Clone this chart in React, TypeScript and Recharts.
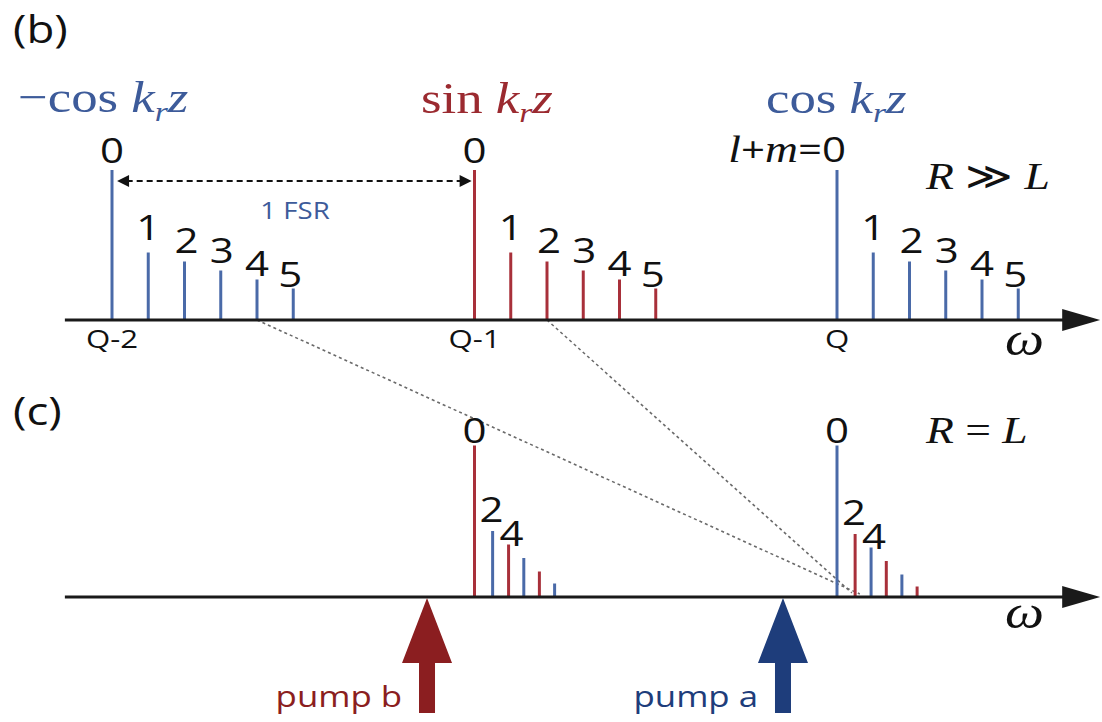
import React from 'react';
import { ComposedChart, XAxis, YAxis, Scatter, ReferenceLine } from 'recharts';

const W = 1102;
const H = 722;

// omega measured in FSR units from mode Q
const fsrNames = ['Q-2', 'Q-1', 'Q'];
const fsrCenters = [-2, -1, 0];
const fsrParity = ['cos', 'sin', 'cos'];

// (b) R >> L : transverse ladder l+m = 0..5 next to each longitudinal mode
const bOrders = ['0', '1', '2', '3', '4', '5'];
const bOffsets = [0, 0.1, 0.2, 0.3, 0.4, 0.5];
const bAmps = [100, 45, 39, 33, 27, 21];

// (c) R = L : ladders collapse and interleave
const cGroupCenters = [-1, 0];
const cGroupParity = ['sin', 'cos'];
const cOrders = ['0', '2', '4', '', '', ''];
const cOffsets = [0, 0.05, 0.094, 0.136, 0.179, 0.221];
const cAmpsLeft = [101, 44, 35, 26, 17, 9];
const cAmpsRight = [101, 42, 33, 24, 15, 7];

const pumpNames = ['pump b', 'pump a'];
const pumpFreqs = [-1.131, -0.149];
const pumpParity = ['sin', 'cos'];

// dotted guides from (b) modes down to the (c) cluster
const linkFrom = [-1.6, -0.8];
const linkTo = [0.063, 0.041];
const linkToAmp = [2, 2.7];

// layout
const PX_PER_FSR = 362.5;
const Q_PX = 837;
const PX_PER_AMP = 1.5;
const C_AXIS_PX = 597;
const B_AXIS_PX = 320;
const xDomain = [-Q_PX / PX_PER_FSR, (W - Q_PX) / PX_PER_FSR];
const yDomain = [-(H - C_AXIS_PX) / PX_PER_AMP, C_AXIS_PX / PX_PER_AMP];
const B_BASE = (C_AXIS_PX - B_AXIS_PX) / PX_PER_AMP;
const C_BASE = 0;
const AXIS_FROM = -2.13;
const AXIS_TO = 0.726;
const FSR_LEVEL = 277.3;
const FSR_FROM = -1.986;
const FSR_TO = -1.008;

const B_LIFT = [7, 13, 9, 8, 4, 2];
const B_DX = [0, 0, 2, 1, 0, -3];
const C_LIFT = [3, 9, -1, 0, 0, 0];
const C_DX = [0, -1, 3, 0, 0, 0];

const SANS = "'Open Sans', 'DejaVu Sans', sans-serif";
const SERIF = "'Liberation Serif', 'DejaVu Serif', serif";
const SX = 1.2; // the source figure is stretched horizontally

const lineColor: Record<string, string> = { cos: '#4a6aa8', sin: '#a8303a' };
const textColor: Record<string, string> = { cos: '#3d5b9a', sin: '#9b2a30' };
const pumpColor: Record<string, string> = { cos: '#1e3d7b', sin: '#8b1e20' };
const AXIS = '#1a1a1a';

const other = (p: string) => (p === 'cos' ? 'sin' : 'cos');

const bLines = fsrCenters.flatMap((c, g) =>
  bOffsets.map((o, i) => ({
    x: c + o,
    base: B_BASE,
    amp: bAmps[i],
    parity: fsrParity[g],
    // the Q group's order-0 label is written out as "l+m=0"
    label: g === fsrCenters.length - 1 && i === 0 ? '' : bOrders[i],
    lift: B_LIFT[i],
    dx: B_DX[i],
  }))
);

const cLines = cGroupCenters.flatMap((c, g) =>
  cOffsets.map((o, i) => ({
    x: c + o,
    base: C_BASE,
    amp: (g === 0 ? cAmpsLeft : cAmpsRight)[i],
    parity: i % 2 === 0 ? cGroupParity[g] : other(cGroupParity[g]),
    label: cOrders[i],
    lift: C_LIFT[i],
    dx: C_DX[i],
  }))
);

const allLines = [...bLines, ...cLines];
const orderLabels = allLines
  .filter((l) => l.label !== '')
  .map((l) => ({ x: l.x, y: l.base + l.amp, label: l.label, lift: l.lift, dx: l.dx }));
const qLabels = fsrCenters.map((c, i) => ({ x: c, y: B_BASE, label: fsrNames[i] }));
const pumps = pumpFreqs.map((f, i) => ({ x: f, y: C_BASE, label: pumpNames[i], parity: pumpParity[i] }));

function Txt({ x, y, size, fill = '#111', anchor = 'start', family = SANS, children }: any) {
  return (
    <text
      transform={`translate(${x} ${y}) scale(${SX} 1)`}
      fontSize={size}
      fill={fill}
      textAnchor={anchor}
      fontFamily={family}
    >
      {children}
    </text>
  );
}

const head = (tx: number, ty: number, a: number, len: number, half: number, fill: string) => {
  const bx = tx - len * Math.cos(a);
  const by = ty - len * Math.sin(a);
  const px = half * Math.sin(a);
  const py = half * Math.cos(a);
  return <polygon points={`${tx},${ty} ${bx + px},${by - py} ${bx - px},${by + py}`} fill={fill} />;
};

const arrowShape =
  (opt: { both?: boolean; len: number; half: number; color: string; width: number; dash?: string }) =>
  (p: any) => {
    const { x1, y1, x2, y2 } = p;
    const a = Math.atan2(y2 - y1, x2 - x1);
    const cut = opt.len * 0.8;
    const sx = opt.both ? x1 + cut * Math.cos(a) : x1;
    const sy = opt.both ? y1 + cut * Math.sin(a) : y1;
    return (
      <g>
        <line
          x1={sx}
          y1={sy}
          x2={x2 - cut * Math.cos(a)}
          y2={y2 - cut * Math.sin(a)}
          stroke={opt.color}
          strokeWidth={opt.width}
          strokeDasharray={opt.dash}
        />
        {head(x2, y2, a, opt.len, opt.half, opt.color)}
        {opt.both ? head(x1, y1, a + Math.PI, opt.len, opt.half, opt.color) : null}
      </g>
    );
  };

const OrderLabel = (p: any) => (
  <Txt x={p.cx + p.payload.dx} y={p.cy - p.payload.lift} size={35} anchor="middle">
    {p.payload.label}
  </Txt>
);

const QLabel = (p: any) => (
  <Txt x={p.cx} y={p.cy + 28} size={26} anchor="middle">
    {p.payload.label}
  </Txt>
);

const Pump = (p: any) => {
  const { cx, cy, payload } = p;
  const c = pumpColor[payload.parity];
  const t = cy + 1;
  const pts = [
    [cx, t],
    [cx + 25, cy + 66],
    [cx + 8, cy + 66],
    [cx + 8, cy + 116],
    [cx - 8, cy + 116],
    [cx - 8, cy + 66],
    [cx - 25, cy + 66],
  ]
    .map((q) => q.join(','))
    .join(' ');
  return (
    <g>
      <polygon points={pts} fill={c} />
      <Txt x={cx - 25} y={cy + 110} size={29} fill={c} anchor="end">
        {payload.label}
      </Txt>
    </g>
  );
};

const Wave = ({ x, y, fill, fn }: any) => (
  <Txt x={x} y={y} size={44} fill={fill} family={SERIF}>
    {fn}
    {' '}
    <tspan fontStyle="italic">k</tspan>
    <tspan fontStyle="italic" fontSize={28} dy={9}>
      r
    </tspan>
    <tspan fontStyle="italic" dy={-9}>
      z
    </tspan>
  </Txt>
);

export default function App() {
  return (
    <div style={{ position: 'absolute', left: 0, top: 0, width: W, height: H, background: '#fff' }}>
      <ComposedChart width={W} height={H} margin={{ top: 0, right: 0, bottom: 0, left: 0 }}>
        <XAxis type="number" dataKey="x" domain={xDomain} allowDataOverflow hide />
        <YAxis type="number" dataKey="y" domain={yDomain} allowDataOverflow hide />
        {linkFrom.map((f, i) => (
          <ReferenceLine
            key={`link-${i}`}
            segment={[
              { x: f, y: B_BASE },
              { x: linkTo[i], y: linkToAmp[i] },
            ]}
            stroke="#6a6a6a"
            strokeWidth={1.6}
            strokeDasharray="3 3"
            ifOverflow="visible"
          />
        ))}
        {allLines.map((l, i) => (
          <ReferenceLine
            key={`mode-${i}`}
            segment={[
              { x: l.x, y: l.base },
              { x: l.x, y: l.base + l.amp },
            ]}
            stroke={lineColor[l.parity]}
            strokeWidth={3}
            ifOverflow="visible"
          />
        ))}
        {[B_BASE, C_BASE].map((b, i) => (
          <ReferenceLine
            key={`axis-${i}`}
            segment={[
              { x: AXIS_FROM, y: b },
              { x: AXIS_TO, y: b },
            ]}
            ifOverflow="visible"
            shape={arrowShape({ len: 38, half: 11, color: AXIS, width: 3 })}
          />
        ))}
        <ReferenceLine
          segment={[
            { x: FSR_FROM, y: FSR_LEVEL },
            { x: FSR_TO, y: FSR_LEVEL },
          ]}
          ifOverflow="visible"
          shape={arrowShape({ both: true, len: 12, half: 6, color: '#111', width: 2, dash: '6 4' })}
        />
        <Scatter data={orderLabels} shape={OrderLabel} isAnimationActive={false} />
        <Scatter data={qLabels} shape={QLabel} isAnimationActive={false} />
        <Scatter data={pumps} shape={Pump} isAnimationActive={false} />
      </ComposedChart>
      <svg
        width={W}
        height={H}
        style={{ position: 'absolute', left: 0, top: 0, pointerEvents: 'none' }}
      >
        <Txt x={13} y={43} size={38}>(b)</Txt>
        <Txt x={13} y={425} size={38}>(c)</Txt>
        <Wave x={18} y={112} fill={textColor.cos} fn={'\u2212cos'} />
        <Wave x={421} y={113} fill={textColor.sin} fn="sin" />
        <Wave x={766} y={113} fill={textColor.cos} fn="cos" />
        <Txt x={846} y={162} size={35} anchor="end">
          <tspan fontFamily={SERIF} fontStyle="italic" fontSize={38}>l</tspan>
          <tspan>+</tspan>
          <tspan fontFamily={SERIF} fontStyle="italic" fontSize={38}>m</tspan>
          <tspan>=0</tspan>
        </Txt>
        <Txt x={926} y={189} size={38} family={SERIF}>
          <tspan fontStyle="italic">R</tspan> {'\u226B'} <tspan fontStyle="italic">L</tspan>
        </Txt>
        <Txt x={926} y={443} size={38} family={SERIF}>
          <tspan fontStyle="italic">R</tspan> = <tspan fontStyle="italic">L</tspan>
        </Txt>
        <Txt x={295} y={219} size={23} fill={textColor.cos} anchor="middle">1 FSR</Txt>
        <Txt x={1005} y={355} size={46} family={SERIF}>
          <tspan fontStyle="italic">{'\u03C9'}</tspan>
        </Txt>
        <Txt x={1005} y={628} size={46} family={SERIF}>
          <tspan fontStyle="italic">{'\u03C9'}</tspan>
        </Txt>
      </svg>
    </div>
  );
}
